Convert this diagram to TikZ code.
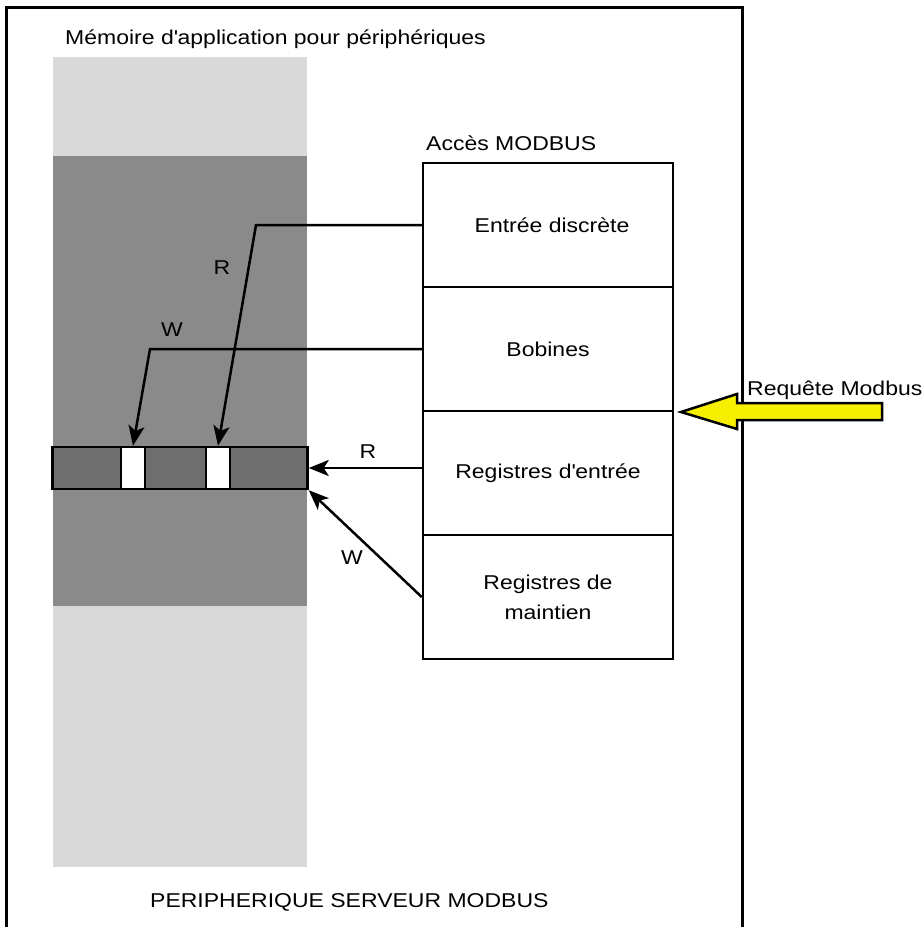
\documentclass[tikz,border=0pt]{standalone}
\usepackage{fontspec}
\setmainfont{Liberation Sans}[FakeStretch=1.15]
\usetikzlibrary{arrows.meta}
\definecolor{lightg}{HTML}{D9D9D9}
\definecolor{darkg}{HTML}{8A8A8A}
\definecolor{barg}{HTML}{6E6E6E}
\definecolor{yel}{HTML}{F7EF00}
\begin{document}
\begin{tikzpicture}[x=1pt,y=-1pt,
  every node/.style={font=\fontsize{20}{30}\selectfont, inner sep=0pt},
  rowbox/.style={draw, line width=2.5pt, minimum width=250pt, minimum height=124pt, align=center},
  cellbox/.style={draw, line width=2.5pt, fill=white, minimum width=24pt, minimum height=42pt},
  arr/.style={line width=2.5pt, -{Stealth[length=20pt,width=16pt,inset=5pt]}},
  lbl/.style={anchor=base west}]
\useasboundingbox (0,0) rectangle (924,927);
\fill[white] (0,0) rectangle (924,927);
% memory column
\fill[lightg] (53,57) rectangle (307,867);
\fill[darkg] (53,156) rectangle (307,606);
% outer frame
\draw[line width=3pt] (6,927) -- (6,7) -- (742,7) -- (742,927);
% titles
\node[lbl] (title) at (65,44) {Mémoire d\textquotesingle application pour périphériques};
\node[lbl] (acces) at (426,150) {Accès MODBUS};
\node[lbl] (server) at (150,907) {PERIPHERIQUE SERVEUR MODBUS};
% stack
\node[rowbox] (r1) at (548,225) {\hspace{8pt}Entrée discrète};
\node[rowbox] (r2) at (548,349) {Bobines};
\node[rowbox] (r3) at (548,473) {Registres d\textquotesingle entrée};
\node[rowbox] (r4) at (548,597) {Registres de\\maintien};
% bar
\node[draw, line width=2.5pt, fill=barg, minimum width=255pt, minimum height=42pt] (bar) at (180,468) {};
\node[cellbox] (ca) at (133,468) {};
\node[cellbox] (cb) at (218,468) {};
% connectors
\coordinate (k1) at (256,225);
\coordinate (k2) at (150,349);
\draw[arr] (r1.west) -- (k1) -- (cb.north);
\draw[arr] (r2.west) -- (k2) -- (ca.north);
\draw[arr] (r3.west |- bar.east) -- (bar.east);
\draw[arr] (r4.west) -- (bar.south east);
% labels
\node (lr1) at (222,268) {R};
\node (lw1) at (172,330) {W};
\node (lr2) at (368,452) {R};
\node (lw2) at (352,558) {W};
% request arrow
\draw[line width=2.5pt, fill=yel, line join=miter] (681,412) -- (737,394) -- (737,403) -- (882,403) -- (882,420) -- (737,420) -- (737,429) -- cycle;
\node[lbl] (req) at (747,395) {Requête Modbus};
\end{tikzpicture}
\end{document}
